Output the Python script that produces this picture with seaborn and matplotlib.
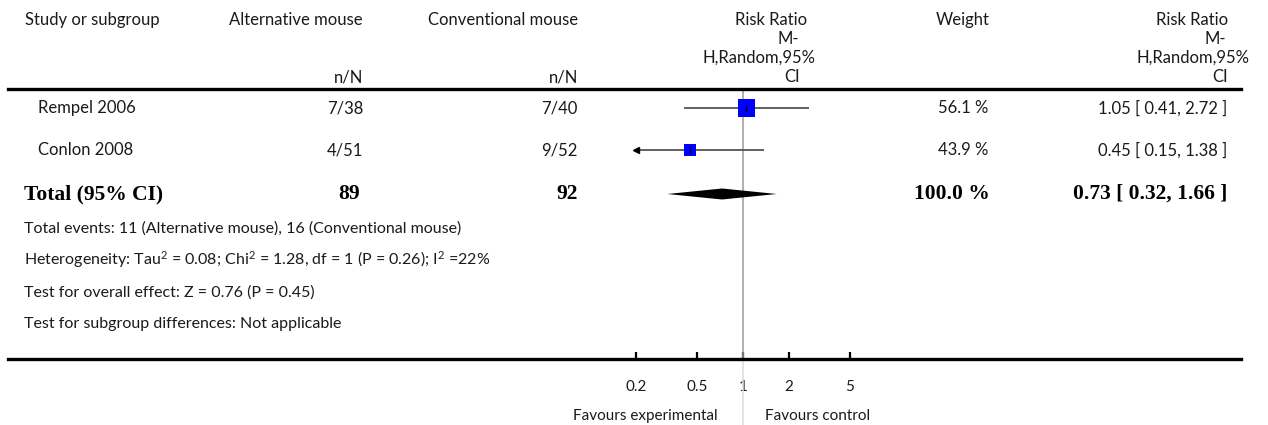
import numpy as np
import pandas as pd
import matplotlib
matplotlib.use("Agg")
import matplotlib.pyplot as plt
from matplotlib.ticker import NullLocator, FixedLocator, FixedFormatter
import seaborn as sns

# ---------------- data ----------------
studies = ["Rempel 2006", "Conlon 2008"]
exp_nN = ["7/38", "4/51"]
ctl_nN = ["7/40", "9/52"]
weights = [56.1, 43.9]
rr = [1.05, 0.45]
rr_lo = [0.41, 0.15]
rr_hi = [2.72, 1.38]
weight_labels = ["56.1 %", "43.9 %"]
rr_labels = ["1.05 [ 0.41, 2.72 ]", "0.45 [ 0.15, 1.38 ]"]
total_label = "Total (95% CI)"
total_exp = "89"
total_ctl = "92"
total_weight = "100.0 %"
total_rr = 0.73
total_lo = 0.32
total_hi = 1.66
total_rr_label = "0.73 [ 0.32, 1.66 ]"
footer_lines = [
    "Total events: 11 (Alternative mouse), 16 (Conventional mouse)",
    "Heterogeneity: Tau$^{2}$ = 0.08; Chi$^{2}$ = 1.28, df = 1 (P = 0.26); I$^{2}$ =22%",
    "Test for overall effect: Z = 0.76 (P = 0.45)",
    "Test for subgroup differences: Not applicable",
]
axis_ticks = [0.2, 0.5, 1, 2, 5]
axis_ticklabels = ["0.2", "0.5", "1", "2", "5"]
axis_min, axis_max = 0.2, 5.0
favours_left = "Favours experimental"
favours_right = "Favours control"

# ---------------- layout (pixels) ----------------
W, H = 1268, 425
row_y = [108, 150]
total_y = 194
footer_y = [228, 260, 292, 323]
line_top, line_bot = 89, 359
ax_left, ax_right = 8, 1241
x_one, px_per_dec = 743, 153

sns.set_theme(style="white")
plt.rcParams["font.family"] = ["Lato", "DejaVu Sans"]
plt.rcParams["mathtext.fontset"] = "custom"
plt.rcParams["mathtext.rm"] = "Lato"
plt.rcParams["mathtext.it"] = "Lato"
plt.rcParams["mathtext.bf"] = "Lato:bold"
SANS = ["Lato", "DejaVu Sans"]
SERIF = ["Liberation Serif", "DejaVu Serif"]
TXT = "#1a1a1a"
fs = 12
fsb = 15.5

fig = plt.figure(figsize=(W / 100, H / 100), dpi=100)

# forest axes
fax = fig.add_axes([ax_left / W, (H - line_bot) / H, (ax_right - ax_left) / W, (line_bot - line_top) / H])
fax.set_xscale("log")
fax.set_xlim(10 ** ((ax_left - x_one) / px_per_dec), 10 ** ((ax_right - x_one) / px_per_dec))
fax.set_ylim(line_bot, line_top)
fax.patch.set_visible(False)
for s in ["left", "right"]:
    fax.spines[s].set_visible(False)
for s in ["top", "bottom"]:
    fax.spines[s].set_visible(True)
    fax.spines[s].set_linewidth(2.4)
    fax.spines[s].set_color("black")
fax.xaxis.set_major_locator(FixedLocator(axis_ticks))
fax.xaxis.set_major_formatter(FixedFormatter(axis_ticklabels))
fax.xaxis.set_minor_locator(NullLocator())
fax.tick_params(axis="x", which="major", direction="in", length=5, width=1.6, color="black",
                pad=15, labelsize=11, labelcolor=TXT, top=False, bottom=True)
for lab in fax.get_xticklabels():
    lab.set_family(SANS)
fax.set_yticks([])

# vertical line at 1
fax.plot([1, 1], [line_top, line_bot], color="#9a9a9a", lw=1.1, zorder=1)
fax.plot([1, 1], [line_bot, H], color="#dddddd", lw=1.1, clip_on=False, zorder=1)

# confidence intervals
for y, lo, hi in zip(row_y, rr_lo, rr_hi):
    lo_c, hi_c = max(lo, axis_min), min(hi, axis_max)
    fax.plot([lo_c, hi_c], [y, y], color="#555555", lw=1.3, zorder=2, solid_capstyle="butt")
    if lo < axis_min:
        fax.plot([axis_min], [y], marker="<", ms=4.5, color="black", zorder=3)
    if hi > axis_max:
        fax.plot([axis_max], [y], marker=">", ms=4.5, color="black", zorder=3)

# squares
df = pd.DataFrame({"rr": rr, "y": row_y, "weight": weights})
sns.scatterplot(data=df, x="rr", y="y", size="weight", sizes=(84, 150), marker="s",
                color="#0000ff", edgecolor="none", linewidth=0, legend=False, ax=fax, zorder=4)
fax.scatter(rr, row_y, marker="|", s=22, color="black", linewidths=1.0, zorder=5)
fax.set_xlabel("")
fax.set_ylabel("")

# diamond
dh = 5.5
fax.fill([total_lo, total_rr, total_hi, total_rr],
         [total_y, total_y - dh, total_y, total_y + dh], color="black", lw=0, zorder=4)

# text overlay axes
tax = fig.add_axes([0, 0, 1, 1])
tax.set_xlim(0, W)
tax.set_ylim(H, 0)
tax.axis("off")
tax.patch.set_visible(False)


def t(x, y, s, ha="left", bold=False, size=None, va="center"):
    tax.text(x, y, s, ha=ha, va=va, color=TXT if not bold else "black",
             fontsize=size if size else (fsb if bold else fs),
             family=SERIF if bold else SANS, fontweight="bold" if bold else "normal")


# header
t(25, 20, "Study or subgroup")
t(363, 20, "Alternative mouse", ha="right")
t(578, 20, "Conventional mouse", ha="right")
t(363, 77, "n/N", ha="right")
t(578, 77, "n/N", ha="right")
for yy, s, xr in zip([20, 39, 58, 77], ["Risk Ratio", "M-", "H,Random,95%", "CI"], [807, 799, 815, 800]):
    t(xr, yy, s, ha="right")
t(990, 20, "Weight", ha="right")
for yy, s, xr in zip([20, 39, 58, 77], ["Risk Ratio", "M-", "H,Random,95%", "CI"], [1228, 1226, 1250, 1228]):
    t(xr, yy, s, ha="right")

# study rows
for y, name, e, c, wl, rl in zip(row_y, studies, exp_nN, ctl_nN, weight_labels, rr_labels):
    t(38, y, name)
    t(363, y, e, ha="right")
    t(578, y, c, ha="right")
    t(988, y, wl, ha="right")
    t(1227, y, rl, ha="right")

# total row
t(24, total_y, total_label, bold=True)
t(360, total_y, total_exp, ha="right", bold=True)
t(578, total_y, total_ctl, ha="right", bold=True)
t(990, total_y, total_weight, ha="right", bold=True)
t(1227, total_y, total_rr_label, ha="right", bold=True)

# footer (baseline-anchored so superscripts do not shift the line)
for yy, s in zip(footer_y, footer_lines):
    t(24, yy + 5, s, size=11.5, va="baseline")

# favours
t(718, 416, favours_left, ha="right", size=11)
t(765, 416, favours_right, ha="left", size=11)

fig.savefig("out.png", dpi=100)
